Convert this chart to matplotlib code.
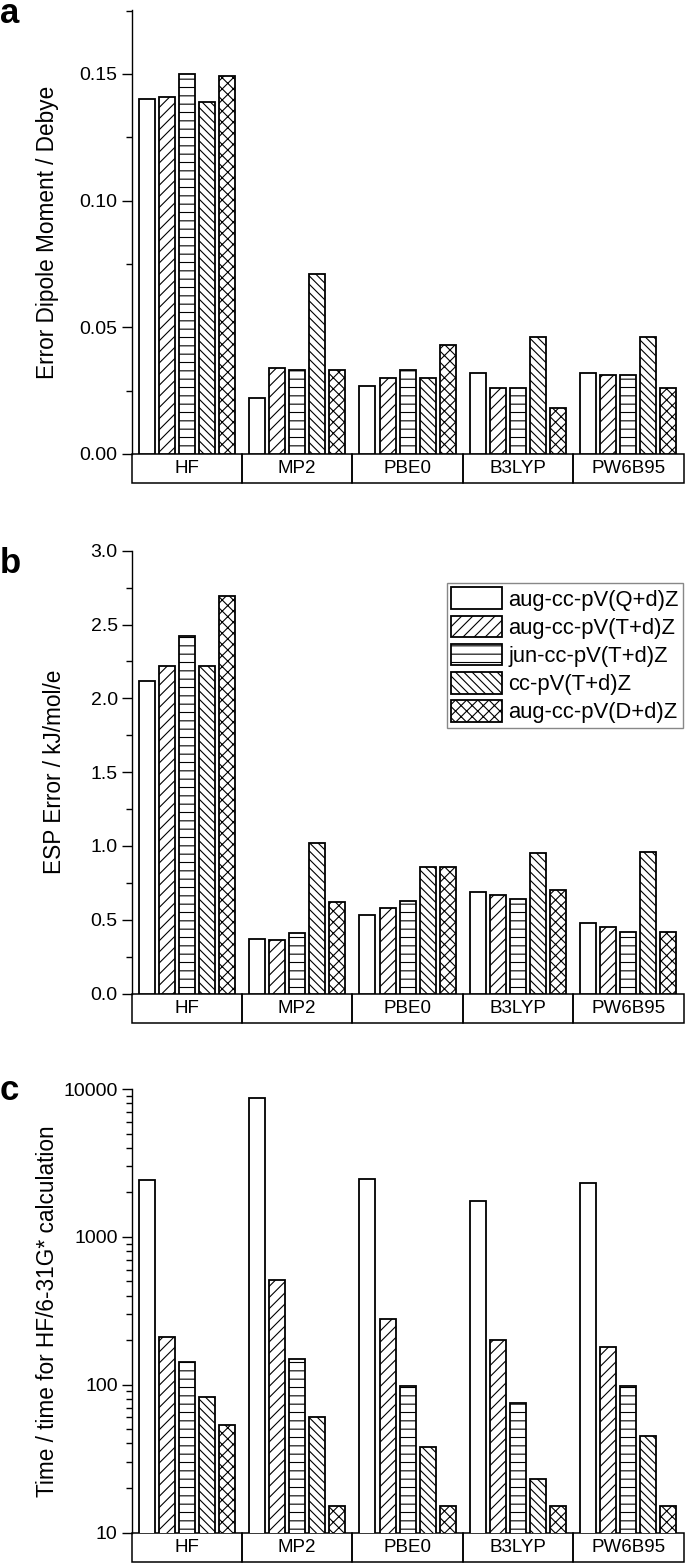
import numpy as np
import matplotlib
matplotlib.use("Agg")
import matplotlib.pyplot as plt
from matplotlib.patches import Rectangle
from matplotlib.ticker import MultipleLocator, FixedLocator, LogLocator, NullFormatter

plt.rcParams['font.family'] = ['Liberation Sans', 'DejaVu Sans']
plt.rcParams['hatch.linewidth'] = 0.8

methods = ["HF", "MP2", "PBE0", "B3LYP", "PW6B95"]
basis = ["aug-cc-pV(Q+d)Z", "aug-cc-pV(T+d)Z", "jun-cc-pV(T+d)Z",
         "cc-pV(T+d)Z", "aug-cc-pV(D+d)Z"]
hatches = [None, "///", "--", "\\\\\\\\", "xxx"]

# rows = basis sets, columns = methods
dipole = [
    [0.140, 0.022, 0.027, 0.032, 0.032],
    [0.141, 0.034, 0.030, 0.026, 0.031],
    [0.150, 0.033, 0.033, 0.026, 0.031],
    [0.139, 0.071, 0.030, 0.046, 0.046],
    [0.149, 0.033, 0.043, 0.018, 0.026],
]
esp = [
    [2.12, 0.37, 0.53, 0.69, 0.48],
    [2.22, 0.36, 0.58, 0.67, 0.45],
    [2.42, 0.41, 0.63, 0.64, 0.42],
    [2.22, 1.02, 0.86, 0.95, 0.96],
    [2.69, 0.62, 0.86, 0.70, 0.42],
]
timing = [
    [2420, 8740, 2480, 1740, 2330],
    [210, 508, 277, 202, 180],
    [142, 149, 98, 75, 98],
    [83, 60, 38, 23, 45],
    [53, 15, 15, 15, 15],
]

W, H = 685, 1565
fig = plt.figure(figsize=(W / 100, H / 100), dpi=100)

left = 131.6 / W
width = 683.5 / W - left


def make_axes(top_px, bot_px):
    return fig.add_axes([left, 1 - bot_px / H, width, (bot_px - top_px) / H])


def draw_panel(ax, data, box_px, axis_px):
    x = np.arange(len(methods))
    pitch = 0.1815
    for k, vals in enumerate(data):
        ax.bar(x + (k - 2) * pitch, vals, width=0.145, color="white",
               edgecolor="black", linewidth=1.3, hatch=hatches[k],
               label=basis[k], zorder=2)
    ax.set_xlim(-0.5, len(methods) - 0.5)
    ax.set_xticks([])
    for s in ["top", "right", "bottom"]:
        ax.spines[s].set_visible(False)
    ax.spines["left"].set_linewidth(1.0)
    # category box row below the plot
    h = box_px / axis_px
    tr = ax.get_xaxis_transform()
    for i, m in enumerate(methods):
        ax.add_patch(Rectangle((i - 0.5, -h), 1, h, transform=tr, fill=False,
                               edgecolor="black", linewidth=1.1, clip_on=False))
        ax.text(i, -h / 2, m, transform=tr, ha="center", va="center",
                fontsize=13.5)
    ax.tick_params(axis="y", which="major", direction="out", length=7,
                   width=1, labelsize=14, pad=3)
    ax.tick_params(axis="y", which="minor", direction="out", length=4, width=1)


# panel a
ax1 = make_axes(10, 454)
draw_panel(ax1, dipole, 29, 444)
ax1.set_ylim(0, 0.1752)
ax1.yaxis.set_major_locator(FixedLocator([0.0, 0.05, 0.10, 0.15]))
ax1.yaxis.set_major_formatter(plt.FuncFormatter(lambda v, p: f"{v:.2f}"))
ax1.yaxis.set_minor_locator(MultipleLocator(0.025))
ax1.set_ylabel("Error Dipole Moment / Debye", fontsize=16.3)
ax1.yaxis.set_label_coords(-0.132, 0.5)

# panel b
ax2 = make_axes(550.7, 993.6)
draw_panel(ax2, esp, 29.4, 443)
ax2.set_ylim(0, 3.0)
ax2.yaxis.set_major_locator(MultipleLocator(0.5))
ax2.yaxis.set_major_formatter(plt.FuncFormatter(lambda v, p: f"{v:.1f}"))
ax2.yaxis.set_minor_locator(MultipleLocator(0.25))
ax2.set_ylabel("ESP Error / kJ/mol/e", fontsize=16.3)
ax2.yaxis.set_label_coords(-0.119, 0.5)
leg = ax2.legend(loc="upper right", bbox_to_anchor=(683 / W, 1 - 583 / H),
                 bbox_transform=fig.transFigure, borderaxespad=0,
                 fontsize=15.8, handlelength=2.3, handleheight=1.15,
                 handletextpad=0.3, labelspacing=0.22, borderpad=0.2,
                 fancybox=False, framealpha=1)
leg.get_frame().set_edgecolor("#888888")
leg.get_frame().set_linewidth(1.0)

# panel c
ax3 = make_axes(1089, 1532.5)
draw_panel(ax3, timing, 29.5, 443.5)
ax3.set_yscale("log")
ax3.set_ylim(10, 10000)
ax3.yaxis.set_major_locator(FixedLocator([10, 100, 1000, 10000]))
ax3.yaxis.set_major_formatter(plt.FuncFormatter(lambda v, p: f"{int(round(v))}"))
ax3.yaxis.set_minor_locator(LogLocator(base=10, subs=np.arange(2, 10)))
ax3.yaxis.set_minor_formatter(NullFormatter())
ax3.set_ylabel("Time / time for HF/6-31G* calculation", fontsize=16.3)
ax3.yaxis.set_label_coords(-0.132, 0.5)

for lab, ybase in [("a", 23), ("b", 573), ("c", 1100)]:
    fig.text(0.0, 1 - ybase / H, lab, fontsize=25, fontweight="bold",
             ha="left", va="baseline")

fig.savefig("out.png", dpi=100)
